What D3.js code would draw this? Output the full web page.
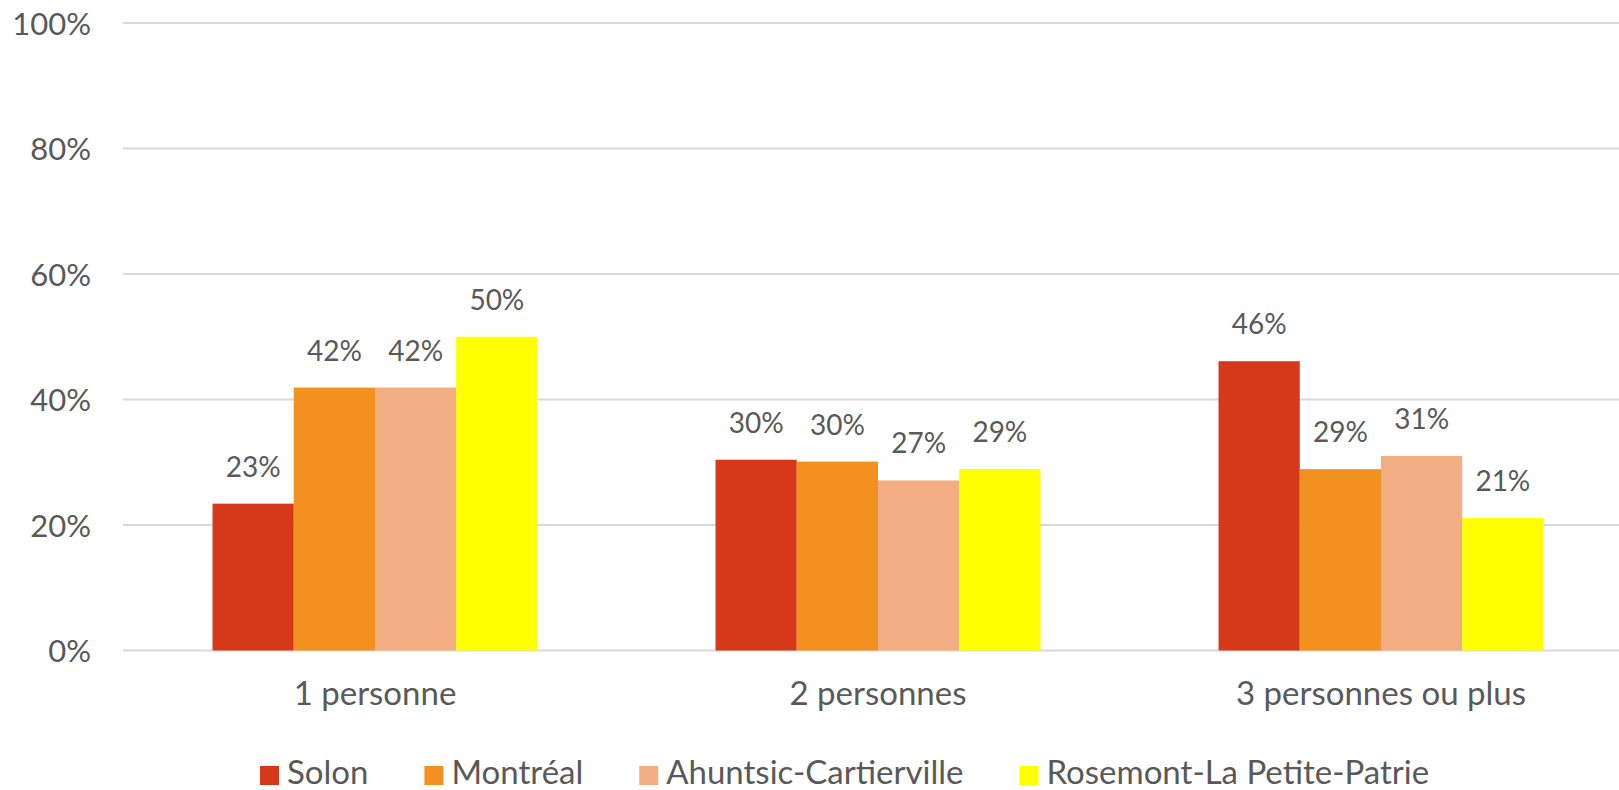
<!DOCTYPE html>
<html><head><meta charset="utf-8">
<script src="https://cdn.jsdelivr.net/npm/d3@7"></script>
<style>html,body{margin:0;padding:0;background:#fff;}svg{display:block;}</style>
</head><body>
<svg id="c" width="1619" height="790"></svg>
<script>
const categories = ["1 personne", "2 personnes", "3 personnes ou plus"];
const seriesNames = ["Solon", "Montréal", "Ahuntsic-Cartierville", "Rosemont-La Petite-Patrie"];
const solon = [23.4, 30.4, 46.1];
const montreal = [41.9, 30.1, 28.9];
const ahuntsic = [41.9, 27.1, 31.0];
const rosemont = [50.0, 28.9, 21.1];
const dataLabels = [["23%","30%","46%"],["42%","30%","29%"],["42%","27%","31%"],["50%","29%","21%"]];
const yTicks = [0, 20, 40, 60, 80, 100];
const colors = ["#D5391A", "#F39120", "#F2AE82", "#FFFF00"];

const series = [solon, montreal, ahuntsic, rosemont];
const W = 1619, H = 790;
const svg = d3.select("#c");
const FONT = "Lato, 'Open Sans', sans-serif";
const TXT = "#595959";

const y = d3.scaleLinear().domain([0, 100]).range([650.5, 23]);
const x0 = d3.scaleBand().domain(categories).range([123.5, 1632.5]).paddingInner(0.354).paddingOuter(0.177);
const x1 = d3.scaleBand().domain(seriesNames).range([0, x0.bandwidth()]).padding(0);

// gridlines
svg.append("g").selectAll("line").data(yTicks).join("line")
  .attr("x1", 123).attr("x2", W)
  .attr("y1", d => y(d)).attr("y2", d => y(d))
  .attr("stroke", "#D9D9D9").attr("stroke-width", 2);

// y axis labels
const yAxis = d3.axisLeft(y).tickValues(yTicks).tickFormat(d => d + "%").tickSize(0).tickPadding(0);
const ya = svg.append("g").attr("transform", "translate(91,0)").call(yAxis);
ya.select(".domain").remove();
ya.selectAll("text").attr("font-family", FONT).attr("font-size", 31).attr("fill", TXT).attr("dy", "0.36em");

// bars
const groups = svg.append("g").selectAll("g").data(categories).join("g")
  .attr("transform", c => `translate(${x0(c)},0)`);
groups.each(function(c, ci) {
  const g = d3.select(this);
  seriesNames.forEach((s, si) => {
    const v = series[si][ci];
    g.append("rect").attr("x", x1(s)).attr("width", x1.bandwidth())
      .attr("y", y(v)).attr("height", y(0) - y(v)).attr("fill", colors[si]);
    g.append("text").attr("x", x1(s) + x1.bandwidth() / 2).attr("y", y(v) - 27)
      .attr("text-anchor", "middle").attr("font-family", FONT).attr("font-size", 28)
      .attr("fill", TXT).text(dataLabels[si][ci]);
  });
});

// category axis labels
const xAxis = d3.axisBottom(x0).tickSize(0).tickPadding(0);
const xa = svg.append("g").attr("transform", "translate(0,705)").call(xAxis);
xa.select(".domain").remove();
xa.selectAll("text").attr("font-family", FONT).attr("font-size", 33).attr("fill", TXT).attr("dy", 0);

// legend
const leg = svg.append("g");
let lx = 260;
seriesNames.forEach((s, i) => {
  leg.append("rect").attr("x", lx).attr("y", 766).attr("width", 19).attr("height", 19).attr("fill", colors[i]);
  const t = leg.append("text").attr("x", lx + 27).attr("y", 784).attr("font-family", FONT)
    .attr("font-size", 33).attr("fill", TXT).text(s);
  lx += 27 + t.node().getComputedTextLength() + 56;
});
</script>
</body></html>
